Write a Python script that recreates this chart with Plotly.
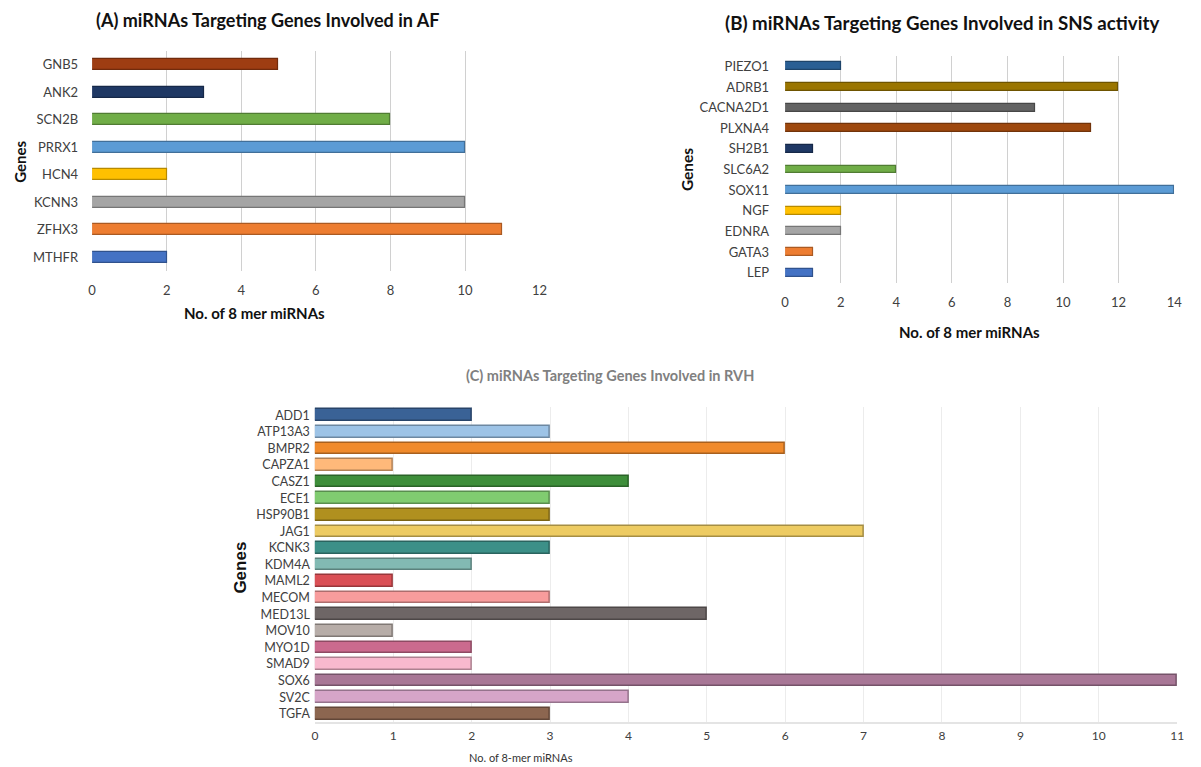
import plotly.graph_objects as go

W, H = 1201, 767

# ---- data -------------------------------------------------------------
af_genes = ["GNB5", "ANK2", "SCN2B", "PRRX1", "HCN4", "KCNN3", "ZFHX3", "MTHFR"]
af_counts = [5, 3, 8, 10, 2, 10, 11, 2]
af_colors = ["#9E3D12", "#1F3864", "#70AD47", "#5B9BD5", "#FFC000", "#A5A5A5", "#ED7D31", "#4472C4"]

sns_genes = ["PIEZO1", "ADRB1", "CACNA2D1", "PLXNA4", "SH2B1", "SLC6A2", "SOX11",
             "NGF", "EDNRA", "GATA3", "LEP"]
sns_counts = [2, 12, 9, 11, 1, 4, 14, 2, 2, 1, 1]
sns_colors = ["#2A5F94", "#9A7500", "#636363", "#9E480E", "#1F3864", "#70AD47", "#5B9BD5",
              "#FFC000", "#A5A5A5", "#ED7D31", "#4472C4"]

rvh_genes = ["ADD1", "ATP13A3", "BMPR2", "CAPZA1", "CASZ1", "ECE1", "HSP90B1", "JAG1",
             "KCNK3", "KDM4A", "MAML2", "MECOM", "MED13L", "MOV10", "MYO1D", "SMAD9",
             "SOX6", "SV2C", "TGFA"]
rvh_counts = [2, 3, 6, 1, 4, 3, 3, 7, 3, 2, 1, 3, 5, 1, 2, 2, 11, 4, 3]
rvh_colors = ["#3A6296", "#9DC3E6", "#F08A2B", "#FFB97A", "#3E8E3A", "#80CC70", "#B0901F",
              "#EDCB62", "#3C9088", "#82BAB3", "#DA4F55", "#F89C9C", "#6E6666", "#B7ADA8",
              "#CB6A8E", "#F8B9CE", "#A87796", "#D6A5C8", "#8C6650"]

af_ticks = [0, 2, 4, 6, 8, 10, 12]
sns_ticks = [0, 2, 4, 6, 8, 10, 12, 14]
rvh_ticks = list(range(0, 12))


def darker(hex_color, f=0.72):
    h = hex_color.lstrip("#")
    r, g, b = (int(h[i:i + 2], 16) for i in (0, 2, 4))
    return "rgb({},{},{})".format(int(r * f), int(g * f), int(b * f))


def xd(a, b):
    return [a / W, b / W]


def yd(top, bottom):
    return [1 - bottom / H, 1 - top / H]


FONT = "Lato, 'Open Sans', sans-serif"
LBL = "#404040"

fig = go.Figure()

fig.add_trace(go.Bar(
    x=af_counts, y=af_genes, orientation="h", width=0.40,
    marker=dict(color=af_colors, line=dict(color=[darker(c) for c in af_colors], width=1.2)),
    xaxis="x", yaxis="y", showlegend=False, hoverinfo="x+y"))

fig.add_trace(go.Bar(
    x=sns_counts, y=sns_genes, orientation="h", width=0.38,
    marker=dict(color=sns_colors, line=dict(color=[darker(c) for c in sns_colors], width=1.2)),
    xaxis="x2", yaxis="y2", showlegend=False, hoverinfo="x+y"))

fig.add_trace(go.Bar(
    x=rvh_counts, y=rvh_genes, orientation="h", width=0.70,
    marker=dict(color=rvh_colors, line=dict(color=[darker(c, 0.7) for c in rvh_colors], width=1.5)),
    xaxis="x3", yaxis="y3", showlegend=False, hoverinfo="x+y"))

grid_ab = dict(showgrid=True, gridcolor="#D0D0D0", gridwidth=1.3, zeroline=False,
               showline=False, ticks="", tickfont=dict(family=FONT, size=13, color=LBL),
               ticklabelstandoff=10, fixedrange=True)
cat_ab = dict(showgrid=False, zeroline=False, showline=False, ticks="",
              tickfont=dict(family=FONT, size=13, color=LBL),
              autorange="reversed", fixedrange=True)

fig.update_layout(
    width=W, height=H, margin=dict(l=0, r=0, t=0, b=0),
    paper_bgcolor="white", plot_bgcolor="white", bargap=0,
    xaxis=dict(domain=xd(89, 541), range=[0, 12], tickvals=af_ticks, anchor="y", **grid_ab),
    yaxis=dict(domain=yd(51, 271), anchor="x", ticklabelstandoff=13, **cat_ab),
    xaxis2=dict(domain=xd(789, 1182), range=[0, 14], tickvals=sns_ticks, anchor="y2", **grid_ab),
    yaxis2=dict(domain=yd(56, 283), anchor="x2", ticklabelstandoff=15, **cat_ab),
    xaxis3=dict(domain=xd(314, 1185), range=[0, 11], tickvals=rvh_ticks, anchor="y3",
                showgrid=True, gridcolor="#ECECEC", gridwidth=1.3, zeroline=False,
                showline=True, linecolor="#E4E4E4", linewidth=2, ticks="",
                tickfont=dict(family=FONT, size=12, color=LBL), ticklabelstandoff=2,
                fixedrange=True),
    yaxis3=dict(domain=yd(407, 722), anchor="x3", showgrid=False, zeroline=False,
                showline=False, ticks="", tickfont=dict(family=FONT, size=12.5, color=LBL),
                ticklabelstandoff=4, autorange="reversed", fixedrange=True),
)

ann = [
    dict(text="<b>(A) miRNAs Targeting Genes Involved in AF</b>", x=266, y=20, size=18, color="#111111"),
    dict(text="<b>(B) miRNAs Targeting Genes Involved in SNS activity</b>", x=947, y=23, size=18.7, color="#111111"),
    dict(text="<b>(C) miRNAs Targeting Genes Involved in RVH</b>", x=612, y=376, size=14.5, color="#808080"),
    dict(text="<b>No. of 8 mer miRNAs</b>", x=253, y=313, size=15, color="#111111"),
    dict(text="<b>No. of 8 mer miRNAs</b>", x=975, y=332, size=15, color="#111111"),
    dict(text="No. of 8-mer miRNAs", x=522, y=757, size=11, color="#333333"),
]
annotations = [
    dict(text=a["text"], x=a["x"] / W, y=1 - a["y"] / H, xref="paper", yref="paper",
         xanchor="center", yanchor="middle", showarrow=False,
         font=dict(family=FONT, size=a["size"], color=a["color"]))
    for a in ann
]
for txt, px, py, sz, fam in [("<b>Genes</b>", 16, 162, 15, FONT),
                             ("<b>Genes</b>", 690, 170, 15.5, FONT),
                             ("<b>Genes</b>", 238, 568, 17, "Liberation Sans, Arial, sans-serif")]:
    annotations.append(dict(text=txt, x=px / W, y=1 - py / H, xref="paper", yref="paper",
                            xanchor="center", yanchor="middle", showarrow=False, textangle=-90,
                            font=dict(family=fam, size=sz, color="#111111")))
fig.update_layout(annotations=annotations)

fig.write_html("out.html")
